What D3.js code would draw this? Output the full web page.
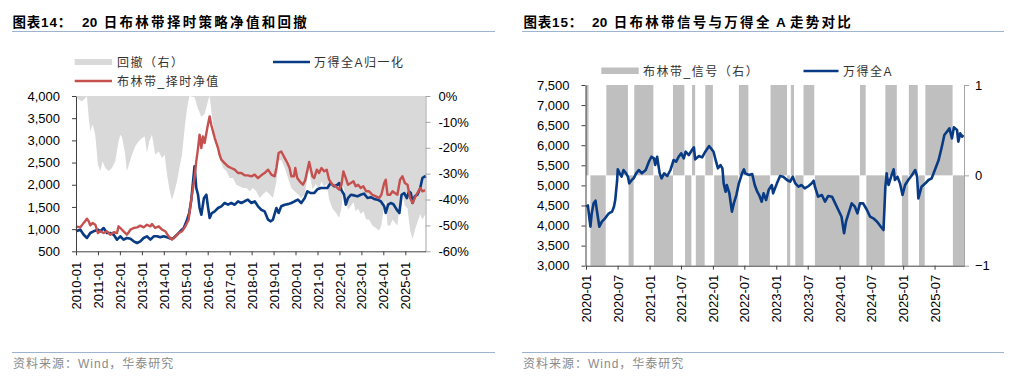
<!DOCTYPE html>
<html><head><meta charset="utf-8">
<script src="https://cdn.jsdelivr.net/npm/d3@7"></script>
<style>
body{margin:0;background:#fff;}
svg text{font-family:"Liberation Sans","Noto Sans CJK SC",sans-serif;white-space:pre;}
</style></head><body>
<svg id="c" width="1024" height="379"></svg>
<script>
// ---------------- DATA (left panel: 2010-2025) ----------------
const leftXTicks = ["2010-01","2011-01","2012-01","2013-01","2014-01","2015-01","2016-01","2017-01","2018-01","2019-01","2020-01","2021-01","2022-01","2023-01","2024-01","2025-01"];
const leftYTicks = [500,1000,1500,2000,2500,3000,3500,4000];
const leftY2Ticks = [-60,-50,-40,-30,-20,-10,0];

// strategy NAV (布林带_择时净值), decimal years
const navYears = [2010.00,2010.20,2010.35,2010.50,2010.58,2010.65,2010.76,2010.88,2011.00,2011.11,2011.26,2011.41,2011.56,2011.72,2011.87,2011.94,2012.02,2012.17,2012.32,2012.48,2012.63,2012.78,2012.93,2013.08,2013.23,2013.39,2013.46,2013.61,2013.77,2013.92,2014.07,2014.22,2014.37,2014.53,2014.68,2014.83,2014.98,2015.13,2015.25,2015.40,2015.48,2015.56,2015.63,2015.71,2015.78,2015.86,2015.94,2016.01,2016.09,2016.16,2016.24,2016.32,2016.47,2016.54,2016.62,2016.77,2016.92,2017.07,2017.23,2017.38,2017.53,2017.68,2017.83,2017.99,2018.14,2018.29,2018.44,2018.59,2018.75,2018.90,2019.05,2019.13,2019.23,2019.35,2019.43,2019.51,2019.63,2019.73,2019.81,2019.93,2019.99,2020.08,2020.19,2020.34,2020.44,2020.62,2020.77,2020.85,2020.97,2021.07,2021.18,2021.30,2021.42,2021.53,2021.68,2021.83,2021.99,2022.09,2022.18,2022.29,2022.39,2022.52,2022.64,2022.74,2022.85,2022.97,2023.09,2023.22,2023.35,2023.50,2023.66,2023.81,2023.91,2024.04,2024.11,2024.19,2024.31,2024.42,2024.52,2024.64,2024.76,2024.87,2024.98,2025.10,2025.22,2025.33,2025.43,2025.55,2025.68,2025.78,2025.90];
const navValues = [1060,1040,1140,1235,1176,1086,1138,1099,912,951,912,951,874,930,912,1063,1025,951,874,987,1025,1040,1077,1040,1099,1063,1115,1025,1063,987,951,838,762,838,912,951,1063,1212,1660,2151,2528,2827,3127,2827,3090,2940,3165,3352,3541,3352,3204,3053,2827,2676,2564,2489,2415,2377,2340,2264,2264,2212,2212,2190,2227,2151,2212,2264,2340,2227,2190,2377,2715,2750,2676,2601,2489,2377,2190,2190,2377,2151,2077,2000,2100,2512,2190,2151,2340,2264,2377,2302,2340,2114,2000,1964,1889,2000,2302,2151,2000,2039,2077,1964,2000,1926,1964,1852,1852,1775,1739,1701,1775,2039,2114,1775,1775,1852,1813,1775,2114,2190,2039,2000,1701,1588,1701,1813,1926,1852,1880];

// Wind All A normalised (万得全A归一化)
const idxYears = [2010.00,2010.20,2010.35,2010.50,2010.65,2010.80,2011.00,2011.11,2011.26,2011.41,2011.56,2011.72,2011.87,2012.02,2012.17,2012.32,2012.48,2012.63,2012.78,2012.93,2013.08,2013.23,2013.39,2013.54,2013.69,2013.84,2013.99,2014.15,2014.30,2014.45,2014.60,2014.75,2014.91,2015.06,2015.16,2015.25,2015.40,2015.48,2015.56,2015.63,2015.71,2015.83,2015.94,2016.01,2016.09,2016.19,2016.32,2016.47,2016.62,2016.77,2016.92,2017.07,2017.23,2017.38,2017.53,2017.68,2017.83,2017.99,2018.14,2018.29,2018.44,2018.59,2018.75,2018.87,2018.97,2019.13,2019.23,2019.35,2019.51,2019.66,2019.81,2019.96,2020.11,2020.26,2020.42,2020.54,2020.69,2020.85,2021.00,2021.15,2021.30,2021.45,2021.60,2021.76,2021.91,2021.99,2022.09,2022.21,2022.29,2022.39,2022.52,2022.67,2022.82,2022.97,2023.12,2023.28,2023.43,2023.58,2023.73,2023.88,2024.04,2024.11,2024.22,2024.34,2024.46,2024.61,2024.73,2024.83,2024.95,2025.07,2025.17,2025.25,2025.33,2025.43,2025.55,2025.68,2025.78,2025.89,2025.91];
const idxValues = [951,987,874,800,912,951,987,951,1025,912,912,874,762,838,762,800,785,725,687,725,800,838,762,838,838,815,838,815,785,800,874,951,1025,1212,1363,1650,2415,1926,1775,1476,1325,1701,1776,1514,1250,1363,1400,1476,1514,1588,1550,1588,1550,1627,1588,1627,1663,1588,1627,1514,1437,1400,1212,1176,1212,1476,1363,1514,1550,1563,1588,1627,1663,1588,1701,1852,1813,1813,1900,1926,1926,1926,2039,1964,2000,2039,1880,1780,1550,1700,1775,1760,1739,1775,1800,1701,1720,1680,1663,1627,1514,1363,1550,1588,1560,1440,1363,1775,1813,1700,1850,1813,1588,1739,1775,1926,2151,2190,2151];

// drawdown of the strategy in % (回撤（右）)
const ddYears = [2010.00,2010.12,2010.27,2010.43,2010.50,2010.58,2010.65,2010.76,2010.88,2011.00,2011.11,2011.21,2011.34,2011.49,2011.64,2011.79,2011.94,2012.02,2012.10,2012.22,2012.32,2012.43,2012.55,2012.70,2012.85,2013.01,2013.13,2013.23,2013.34,2013.46,2013.61,2013.77,2013.92,2014.04,2014.15,2014.27,2014.37,2014.49,2014.60,2014.71,2014.83,2014.95,2015.06,2015.17,2015.40,2015.56,2015.71,2015.86,2016.01,2016.09,2016.24,2016.39,2016.54,2016.70,2016.85,2017.00,2017.15,2017.30,2017.45,2017.61,2017.76,2017.91,2018.06,2018.21,2018.37,2018.52,2018.67,2018.82,2018.97,2019.13,2019.23,2019.35,2019.51,2019.66,2019.81,2019.96,2020.11,2020.26,2020.42,2020.54,2020.62,2020.77,2020.92,2021.07,2021.18,2021.30,2021.42,2021.53,2021.68,2021.83,2021.99,2022.09,2022.18,2022.29,2022.39,2022.52,2022.64,2022.74,2022.85,2022.97,2023.09,2023.22,2023.35,2023.50,2023.66,2023.81,2023.91,2024.04,2024.11,2024.19,2024.31,2024.42,2024.52,2024.64,2024.76,2024.87,2024.98,2025.10,2025.22,2025.33,2025.43,2025.55,2025.68,2025.78,2025.92];
const ddValues = [0,-1.4,-2,-0.8,0,-8.5,-13.6,-11,-15.2,-26.5,-29.1,-25.2,-27.8,-29,-27.8,-25.2,-17.5,-15,-16,-21.4,-29,-26,-22.7,-19.4,-17.5,-16.2,-15.6,-22,-17.5,-15,-22.7,-21.4,-24,-22.7,-30.4,-36.8,-40.1,-36.8,-33,-27.8,-22.7,-12.4,-4.6,0,-0.5,-5,-8,-7,-2,0,-11,-18.8,-24,-27.8,-29,-31.7,-31.7,-34.3,-34.9,-35.5,-35.5,-36.8,-35.5,-36.8,-39.4,-38,-36.8,-38,-39.4,-33,-25,-24.6,-27.8,-31.7,-35.5,-36.8,-38,-39.4,-38,-31.7,-29,-36,-34,-36,-33,-35,-34,-40,-43.5,-45,-47,-43.5,-35,-39,-44,-42.5,-41,-44.5,-43.5,-45.6,-44.5,-47.7,-47.7,-50,-51,-52,-50,-42.4,-40.3,-50,-50,-47.7,-48.8,-50,-40.3,-38.2,-42.4,-43.5,-52,-55.2,-52,-48.8,-45.6,-47.7,-45.6];

// ---------------- DATA (right panel: 2020-2025) ----------------
const rightXTicks = ["2020-01","2020-07","2021-01","2021-07","2022-01","2022-07","2023-01","2023-07","2024-01","2024-07","2025-01","2025-07"];
const rightYTicks = [3000,3500,4000,4500,5000,5500,6000,6500,7000,7500];
const rightY2Ticks = [-1,0,1];

const wdaYears = [2020.00,2020.03,2020.05,2020.07,2020.09,2020.12,2020.15,2020.17,2020.21,2020.25,2020.30,2020.36,2020.41,2020.44,2020.46,2020.49,2020.50,2020.53,2020.56,2020.59,2020.63,2020.66,2020.68,2020.72,2020.75,2020.79,2020.83,2020.88,2020.94,2020.99,2021.03,2021.07,2021.09,2021.12,2021.16,2021.19,2021.23,2021.28,2021.33,2021.38,2021.42,2021.46,2021.50,2021.54,2021.57,2021.62,2021.67,2021.70,2021.72,2021.78,2021.83,2021.88,2021.94,2021.98,2022.01,2022.05,2022.08,2022.12,2022.15,2022.17,2022.20,2022.22,2022.26,2022.30,2022.33,2022.37,2022.41,2022.46,2022.49,2022.51,2022.57,2022.62,2022.66,2022.70,2022.73,2022.77,2022.80,2022.84,2022.88,2022.93,2022.95,2023.01,2023.06,2023.11,2023.17,2023.22,2023.26,2023.30,2023.35,2023.40,2023.45,2023.51,2023.56,2023.59,2023.61,2023.66,2023.72,2023.77,2023.82,2023.88,2023.93,2023.98,2024.03,2024.07,2024.10,2024.14,2024.19,2024.24,2024.28,2024.32,2024.37,2024.43,2024.48,2024.53,2024.59,2024.64,2024.69,2024.72,2024.74,2024.77,2024.81,2024.85,2024.87,2024.91,2024.95,2024.99,2025.03,2025.08,2025.14,2025.19,2025.22,2025.24,2025.29,2025.35,2025.40,2025.45,2025.50,2025.56,2025.61,2025.65,2025.69,2025.73,2025.77,2025.80,2025.85,2025.87,2025.90,2025.93,2025.95];
const wdaValues = [4469,4500,4220,3971,4300,4554,4620,4387,3971,4096,4180,4305,4346,4469,4636,5134,5400,5300,5217,5383,5300,5217,5051,5134,5176,5300,5383,5300,5383,5590,5714,5673,5507,5714,5300,5176,5300,5234,5383,5632,5590,5714,5798,5673,5839,5756,5881,5948,5648,5731,5698,5839,5980,5898,5839,5590,5425,5507,5425,5051,4843,5009,4802,4345,4553,4760,5051,5300,5400,5300,5259,5284,5009,4843,4760,4594,4802,4636,4885,5009,4802,5051,5234,5217,5134,5092,5217,5051,4968,5009,4926,4985,5051,5117,4968,4719,4760,4594,4736,4719,4553,4387,4220,3807,4096,4304,4553,4470,4304,4553,4553,4387,4220,4180,4096,3988,3889,4968,5300,5009,5217,5400,5134,5217,5051,4760,5009,5134,5259,5383,5217,4677,4968,5051,5134,5176,5383,5632,5964,6254,6337,6421,6171,6445,6379,6088,6296,6213,6254];

// Bollinger signal (布林带_信号（右）) periods
const sigStart = [2020.00,2020.07,2020.32,2020.67,2020.76,2021.07,2021.37,2021.56,2021.67,2021.73,2021.88,2022.02,2022.41,2022.57,2022.91,2023.17,2023.23,2023.30,2023.43,2023.61,2024.32,2024.42,2024.72,2024.98,2025.09,2025.25,2025.35,2025.785];
const sigEnd   = [2020.04,2020.31,2020.66,2020.75,2021.06,2021.37,2021.55,2021.66,2021.72,2021.87,2022.00,2022.40,2022.56,2022.90,2023.17,2023.22,2023.28,2023.43,2023.60,2024.31,2024.41,2024.71,2024.90,2025.08,2025.23,2025.34,2025.78,2025.96];
const sigValue = [1,-1,1,-1,1,-1,1,-1,1,-1,1,-1,1,-1,1,-1,1,-1,1,-1,1,-1,1,-1,1,-1,1,-1];

// ---------------- DRAWING ----------------
const svg = d3.select("#c");
const FONT = "Liberation Sans, Arial, sans-serif";
function yd(y){ const yr=Math.floor(y); const a=new Date(yr,0,1), b=new Date(yr+1,0,1); return new Date(+a + (y-yr)*(b-a)); }
const parseYM = d3.timeParse("%Y-%m");

function styleAxis(g, color){
  g.attr("font-family", null).attr("font-size", null);
  g.selectAll("path.domain").attr("stroke", color).attr("stroke-width",1);
  g.selectAll(".tick line").attr("stroke", color);
  g.selectAll(".tick text").attr("font-size",13).attr("font-family",FONT).attr("fill","#000");
}

// headers / footers
function header(x0, x1, parts){
  const t = svg.append("text").attr("y",26.5).attr("font-weight","bold").attr("font-size",13.5).attr("fill","#000");
  parts.forEach(p => { const s = t.append("tspan").attr("letter-spacing",p[2]).text(p[1]); if (p[0] != null) s.attr("x",p[0]); });
  svg.append("line").attr("x1",x0).attr("x2",x1).attr("y1",31.5).attr("y2",31.5).attr("stroke","#9db3cf").attr("stroke-width",1.2);
  svg.append("line").attr("x1",x0).attr("x2",x1).attr("y1",352.5).attr("y2",352.5).attr("stroke","#9db3cf").attr("stroke-width",1.2);
  svg.append("text").attr("x",x0+1).attr("y",368).attr("font-size",12).attr("fill","#8a8a8a").attr("letter-spacing",1).text("资料来源：Wind，华泰研究");
}
header(12, 495, [[12.5,"图表14：",0.8],[82,"20",0.3],[null," 日布林带择时策略净值和回撤",2.3]]);
header(522, 1004, [[523.5,"图表15：",0.8],[592,"20",0.3],[null," 日布林带信号与万得全",2.3],[null," A ",0.5],[null,"走势对比",2.3]]);

// ---------- left panel ----------
const xL = d3.scaleTime().domain([yd(2010), yd(2025.92)]).range([76, 425.5]);
const yL = d3.scaleLinear().domain([500,4000]).range([251.3, 96]);
const yL2 = d3.scaleLinear().domain([-60,0]).range([251.3, 96]);

svg.append("path")
  .datum(ddYears.map((t,i)=>[t, ddValues[i]]))
  .attr("d", d3.area().x(d=>xL(yd(d[0]))).y0(yL2(0)).y1(d=>yL2(d[1])))
  .attr("fill","#d9d9d9");

const lineL = d3.line().x(d=>xL(yd(d[0]))).y(d=>yL(d[1]));
svg.append("path").datum(idxYears.map((t,i)=>[t, idxValues[i]])).attr("d", lineL)
  .attr("fill","none").attr("stroke","#083b84").attr("stroke-width",2.6).attr("stroke-linejoin","round");
svg.append("path").datum(navYears.map((t,i)=>[t, navValues[i]])).attr("d", lineL)
  .attr("fill","none").attr("stroke","#c5504e").attr("stroke-width",2.4).attr("stroke-linejoin","round");

const gLY = svg.append("g").attr("transform","translate(76,0)")
  .call(d3.axisLeft(yL).tickValues(leftYTicks).tickFormat(d3.format(",")).tickSize(4).tickSizeOuter(0).tickPadding(12));
styleAxis(gLY, "#404040");
const gLY2 = svg.append("g").attr("transform","translate(425.5,0)")
  .call(d3.axisRight(yL2).tickValues(leftY2Ticks).tickFormat(d=>d+"%").tickSize(5).tickSizeOuter(0).tickPadding(8));
styleAxis(gLY2, "#a6a6a6");
const gLX = svg.append("g").attr("transform","translate(0,251.3)")
  .call(d3.axisBottom(xL).tickValues(leftXTicks.map(parseYM)).tickFormat(d3.timeFormat("%Y-%m")).tickSize(4).tickSizeOuter(0));
styleAxis(gLX, "#404040");
gLX.selectAll(".tick text").attr("transform","rotate(-90)").attr("text-anchor","end").attr("x",-10.5).attr("y",0).attr("dy","0.35em");

// left legend
svg.append("rect").attr("x",74.7).attr("y",59).attr("width",37.3).attr("height",6).attr("fill","#d9d9d9");
svg.append("text").attr("x",117).attr("y",66.5).attr("font-size",12).attr("fill","#333").attr("letter-spacing",1.5).text("回撤（右）");
svg.append("line").attr("x1",273).attr("x2",310).attr("y1",62).attr("y2",62).attr("stroke","#083b84").attr("stroke-width",2.6);
svg.append("text").attr("x",314).attr("y",66.5).attr("font-size",12).attr("fill","#333").attr("letter-spacing",1.5).text("万得全A归一化");
svg.append("line").attr("x1",74.7).attr("x2",112).attr("y1",81).attr("y2",81).attr("stroke","#c5504e").attr("stroke-width",2.4);
svg.append("text").attr("x",117).attr("y",85.5).attr("font-size",12).attr("fill","#333").attr("letter-spacing",1.5).text("布林带_择时净值");

// ---------- right panel ----------
const xR = d3.scaleTime().domain([yd(2020), yd(2025.96)]).range([586, 964]);
const yR = d3.scaleLinear().domain([3000,7500]).range([265.7, 85]);
const yR2 = d3.scaleLinear().domain([-1,1]).range([265.7, 85]);

svg.append("g").selectAll("rect").data(sigStart.map((s,i)=>({s, e:sigEnd[i], v:sigValue[i]}))).join("rect")
  .attr("x", d=>xR(yd(d.s)))
  .attr("width", d=>Math.max(0, xR(yd(d.e)) - xR(yd(d.s))))
  .attr("y", d=>yR2(Math.max(0,d.v)))
  .attr("height", d=>Math.abs(yR2(d.v) - yR2(0)))
  .attr("fill","#bfbfbf");

svg.append("path").datum(wdaYears.map((t,i)=>[t, wdaValues[i]]))
  .attr("d", d3.line().x(d=>xR(yd(d[0]))).y(d=>yR(d[1])))
  .attr("fill","none").attr("stroke","#083b84").attr("stroke-width",2.6).attr("stroke-linejoin","round");

const gRY = svg.append("g").attr("transform","translate(585.5,0)")
  .call(d3.axisLeft(yR).tickValues(rightYTicks).tickFormat(d3.format(",")).tickSize(4).tickSizeOuter(0).tickPadding(12));
styleAxis(gRY, "#404040");
const gRY2 = svg.append("g").attr("transform","translate(964,0)")
  .call(d3.axisRight(yR2).tickValues(rightY2Ticks).tickFormat(d3.format("d")).tickSize(5).tickSizeOuter(0).tickPadding(6));
styleAxis(gRY2, "#a6a6a6");
const gRX = svg.append("g").attr("transform","translate(0,265.7)")
  .call(d3.axisBottom(xR).tickValues(rightXTicks.map(parseYM)).tickFormat(d3.timeFormat("%Y-%m")).tickSize(4).tickSizeOuter(0));
styleAxis(gRX, "#404040");
gRX.selectAll(".tick text").attr("transform","rotate(-90)").attr("text-anchor","end").attr("x",-9).attr("y",0).attr("dy","0.35em");

// right legend
svg.append("rect").attr("x",601.3).attr("y",67.5).attr("width",37.4).attr("height",6.5).attr("fill","#bfbfbf");
svg.append("text").attr("x",643).attr("y",75.5).attr("font-size",12).attr("fill","#333").attr("letter-spacing",1.5).text("布林带_信号（右）");
svg.append("line").attr("x1",803.5).attr("x2",838.5).attr("y1",71).attr("y2",71).attr("stroke","#083b84").attr("stroke-width",2.6);
svg.append("text").attr("x",843).attr("y",75.5).attr("font-size",12).attr("fill","#333").attr("letter-spacing",1.5).text("万得全A");
</script>
</body></html>
